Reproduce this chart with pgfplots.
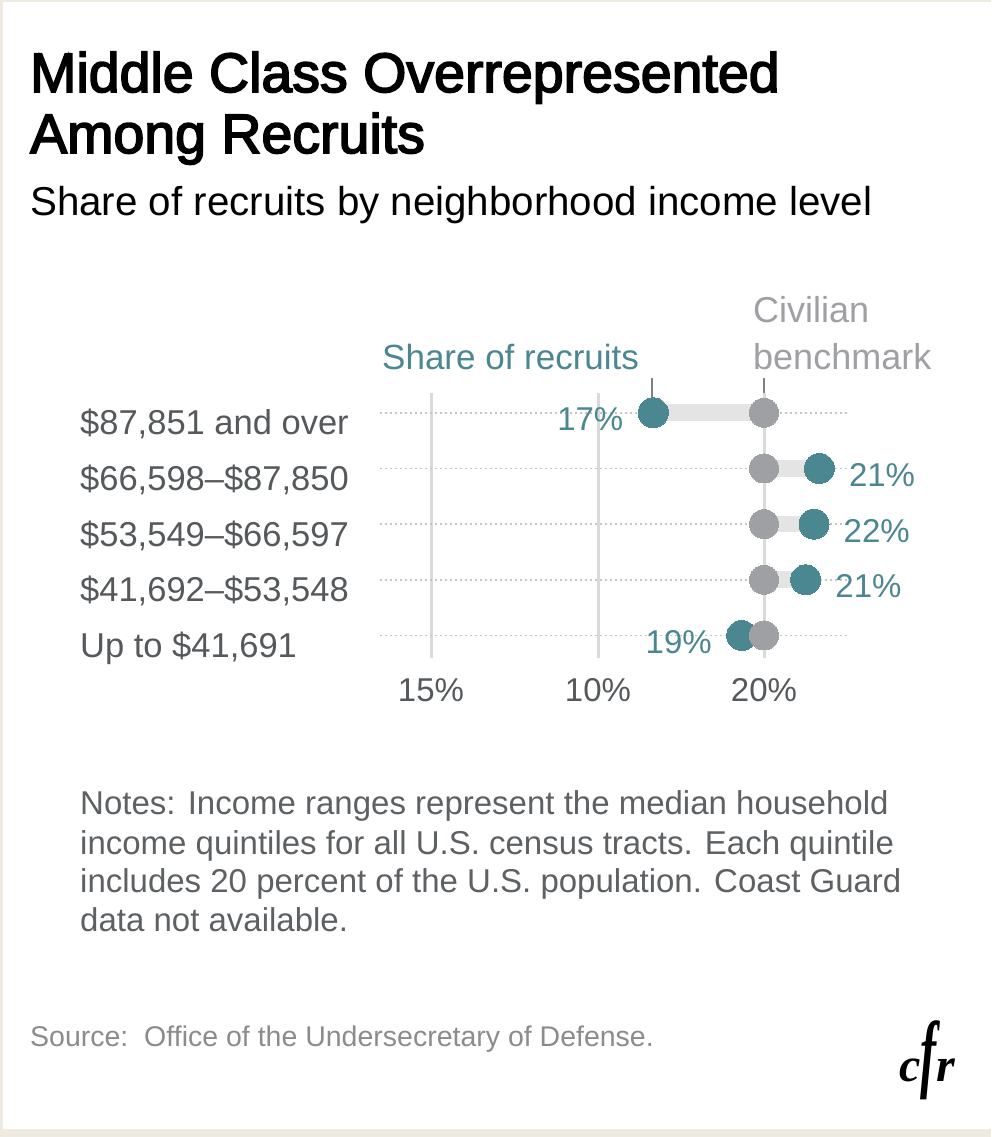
\documentclass[border=0pt]{standalone}
\usepackage{fontspec}
\setmainfont{Liberation Sans}
\newfontfamily\titlefont[FakeBold=3]{Liberation Sans}
\newfontfamily\logofont{Liberation Serif}
\usepackage{graphicx}
\usepackage{pgfplots}
\pgfplotsset{compat=1.18}
\usepackage{pgfplotstable}

\definecolor{tealc}{HTML}{4B8790}
\definecolor{benchc}{HTML}{9FA0A4}
\definecolor{connc}{HTML}{E4E4E4}
\definecolor{gridc}{HTML}{DADADA}
\definecolor{dotc}{HTML}{C4C4C4}
\definecolor{labelc}{HTML}{55595C}
\definecolor{notec}{HTML}{5E6164}
\definecolor{sourcec}{HTML}{8C8C8C}
\definecolor{beigec}{HTML}{EEEAE1}
\definecolor{tickmc}{HTML}{7F8184}

% row: 4 = top (87,851 and over) ... 0 = bottom (up to 41,691)
% x positions are the positions read from the chart's axis (pixel scale)
% rows whose value label sits left of the dot
\pgfplotstableread{
row recruit bench val
4 653.3 764 17
0 741.7 764 19
}\recruitsL
% rows whose value label sits right of the dot
\pgfplotstableread{
row recruit bench val
3 819.3 764 21
2 814.0 764 22
1 805.7 764 21
}\recruitsR

\begin{document}
\begin{tikzpicture}
\fill[beigec] (0pt,0pt) rectangle (991pt,1137pt);
\fill[white] (2.5pt,8pt) rectangle (991pt,1135pt);
\path[use as bounding box] (0pt,0pt) rectangle (991pt,1137pt);

% title and subtitle
\node[anchor=base west, inner sep=0pt, text=black] at (30pt,1045pt)
  {\titlefont\fontsize{55.5}{60}\selectfont Middle Class Overrepresented};
\node[anchor=base west, inner sep=0pt, text=black] at (30pt,984pt)
  {\titlefont\fontsize{55.5}{60}\selectfont Among Recruits};
\node[anchor=base west, inner sep=0pt, text=black] at (30pt,921pt)
  {\fontsize{40.3}{46}\selectfont Share of recruits by neighborhood income level};

% series labels
\node[anchor=base west, inner sep=0pt, text=tealc] at (382pt,767pt)
  {\fontsize{35}{40}\selectfont Share of recruits};
\node[anchor=base west, inner sep=0pt, text=benchc] at (753pt,814pt)
  {\fontsize{36}{40}\selectfont Civilian};
\node[anchor=base west, inner sep=0pt, text=benchc] at (753pt,767pt)
  {\fontsize{36}{40}\selectfont benchmark};
\draw[tickmc, line width=2pt] (652pt,759pt) -- (652pt,740pt);
\draw[tickmc, line width=2pt] (764pt,759pt) -- (764pt,740pt);

\begin{axis}[
  at={(380pt,479pt)}, anchor=south west,
  scale only axis, width=470pt, height=265pt,
  xmin=380, xmax=850, ymin=-0.404, ymax=4.355,
  clip=false,
  axis line style={draw=none},
  major tick length=0pt, tick style={draw=none},
  xtick={431,598,764}, xticklabels={15\%,10\%,20\%},
  xticklabel style={anchor=base, inner sep=0pt, yshift=-44pt,
    font=\fontsize{33}{36}\selectfont, text=labelc},
  ytick={0,1,2,3,4},
  yticklabels={{Up to \$41,691}, {\$41,692--\$53,548}, {\$53,549--\$66,597},
    {\$66,598--\$87,850}, {\$87,851 and over}},
  yticklabel style={anchor=base west, inner sep=0pt, xshift=-300pt, yshift=-22pt,
    font=\fontsize{34.5}{36}\selectfont, text=labelc},
  xmajorgrids, ymajorgrids,
  major x grid style={gridc, line width=3pt},
  major y grid style={dotc, line width=1.8pt, dash pattern=on 1.8pt off 3.2pt},
]
% connectors
\addplot[connc, line width=16.7pt, mark=none] coordinates {(764,4) (653.3,4)};
\addplot[connc, line width=16.7pt, mark=none] coordinates {(764,3) (819.3,3)};
\addplot[connc, line width=16.7pt, mark=none] coordinates {(764,2) (814.0,2)};
\addplot[connc, line width=16.7pt, mark=none] coordinates {(764,1) (805.7,1)};
\addplot[connc, line width=16.7pt, mark=none] coordinates {(764,0) (741.7,0)};
% share of recruits, labels left
\addplot[only marks, mark=*, mark size=15pt,
  mark options={draw=tealc, fill=tealc, line width=0pt},
  point meta=explicit symbolic,
  nodes near coords={\pgfplotspointmeta\%},
  nodes near coords style={anchor=base east, xshift=-30pt, yshift=-18pt,
    inner sep=0pt, text=tealc, font=\fontsize{33}{36}\selectfont},
] table[x=recruit, y=row, meta=val] {\recruitsL};
% share of recruits, labels right
\addplot[only marks, mark=*, mark size=15pt,
  mark options={draw=tealc, fill=tealc, line width=0pt},
  point meta=explicit symbolic,
  nodes near coords={\pgfplotspointmeta\%},
  nodes near coords style={anchor=base west, xshift=29.7pt, yshift=-18pt,
    inner sep=0pt, text=tealc, font=\fontsize{33}{36}\selectfont},
] table[x=recruit, y=row, meta=val] {\recruitsR};
% civilian benchmark
\addplot[only marks, mark=*, mark size=14.5pt,
  mark options={draw=benchc, fill=benchc, line width=0pt}]
  table[x=bench, y=row] {\recruitsL};
\addplot[only marks, mark=*, mark size=14.5pt,
  mark options={draw=benchc, fill=benchc, line width=0pt}]
  table[x=bench, y=row] {\recruitsR};
\end{axis}

% notes
\node[anchor=base west, inner sep=0pt, text=notec] at (80pt,322pt)
  {\fontsize{33}{39}\selectfont Notes: Income ranges represent the median household};
\node[anchor=base west, inner sep=0pt, text=notec] at (80pt,282pt)
  {\fontsize{33}{39}\selectfont income quintiles for all U.S. census tracts. Each quintile};
\node[anchor=base west, inner sep=0pt, text=notec] at (80pt,244pt)
  {\fontsize{33}{39}\selectfont includes 20 percent of the U.S. population. Coast Guard};
\node[anchor=base west, inner sep=0pt, text=notec] at (80pt,205pt)
  {\fontsize{33}{39}\selectfont data not available.};

% source
\node[anchor=base west, inner sep=0pt, text=sourcec] at (30pt,90pt)
  {\fontsize{28.5}{32}\selectfont Source:\ \ Office of the Undersecretary of Defense.};

% logo
\node[anchor=base west, inner sep=0pt, text=black] at (899pt,55pt)
  {\logofont\bfseries\itshape\fontsize{48}{48}\selectfont c\scalebox{1}[1.8]{f}r};
\end{tikzpicture}
\end{document}
